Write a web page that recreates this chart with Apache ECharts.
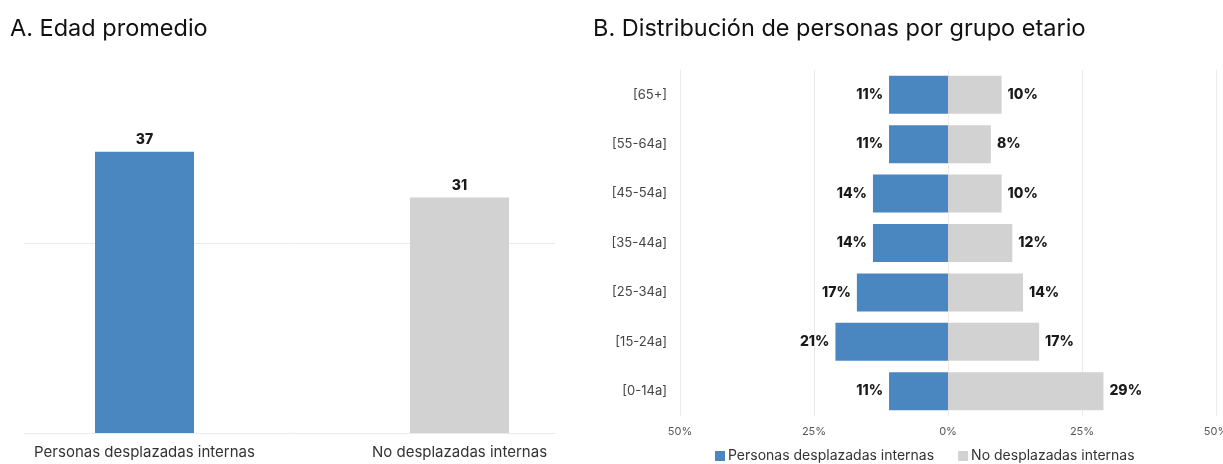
<!DOCTYPE html>
<html>
<head>
<meta charset="utf-8">
<script src="https://cdn.jsdelivr.net/npm/echarts@6/dist/echarts.min.js"></script>
<style>
html,body{margin:0;padding:0;background:#fff;}
#c{width:1223px;height:464px;}
</style>
</head>
<body>
<div id="c"></div>
<script>
// ---- Data ----
const avgCategories = ['Personas desplazadas internas', 'No desplazadas internas'];
const avgAge = [37, 31];

const ageGroups = ['[65+]', '[55-64a]', '[45-54a]', '[35-44a]', '[25-34a]', '[15-24a]', '[0-14a]'];
const displacedPct = [11, 11, 14, 14, 17, 21, 11];
const nonDisplacedPct = [10, 8, 10, 12, 14, 17, 29];

const seriesNames = ['Personas desplazadas internas', 'No desplazadas internas'];
const xTicks = [-50, -25, 0, 25, 50];

// ---- Style ----
const BLUE = '#4a86c0';
const GRAY = '#d2d2d2';
const FONT = 'Inter';
const GRID_COLOR = '#ebebeb';
const barColors = [BLUE, GRAY];
const barLefts = [95, 410];

const chart = echarts.init(document.getElementById('c'), null, {renderer: 'canvas'});

const baseGrid = {outerBoundsMode: 'none', containLabel: false};

const grids = [
  // 0: left chart gridlines / baseline
  Object.assign({left: 24, width: 531, top: 53, bottom: 31}, baseGrid),
  // 1,2: one grid per bar of the left chart
  Object.assign({left: barLefts[0], width: 99, top: 53, bottom: 31}, baseGrid),
  Object.assign({left: barLefts[1], width: 99, top: 53, bottom: 31}, baseGrid),
  // 3: right chart
  Object.assign({left: 680, right: 7, top: 70, bottom: 48}, baseGrid)
];

const xAxes = [
  {gridIndex: 0, type: 'category', data: avgCategories,
   axisLine: {show: true, lineStyle: {color: GRID_COLOR, width: 1}},
   axisTick: {show: false}, axisLabel: {show: false}}
];
const yAxes = [
  {gridIndex: 0, type: 'value', min: 0, max: 50, interval: 25,
   axisLine: {show: false}, axisTick: {show: false}, axisLabel: {show: false},
   splitLine: {show: true, showMinLine: false, showMaxLine: false, lineStyle: {color: GRID_COLOR, width: 1}}}
];
const series = [];

avgCategories.forEach((cat, i) => {
  xAxes.push({gridIndex: i + 1, type: 'category', data: [cat],
    axisLine: {show: false}, axisTick: {show: false},
    axisLabel: {fontFamily: FONT, fontSize: 15, color: '#333', margin: 12, interval: 0}});
  yAxes.push({gridIndex: i + 1, type: 'value', min: 0, max: 50, interval: 25,
    axisLine: {show: false}, axisTick: {show: false}, axisLabel: {show: false},
    splitLine: {show: false}});
  series.push({
    type: 'bar', xAxisIndex: i + 1, yAxisIndex: i + 1,
    barWidth: '100%',
    itemStyle: {color: barColors[i]},
    data: [avgAge[i]],
    label: {show: true, position: 'top', distance: 5,
            fontFamily: FONT, fontSize: 14, fontWeight: 800, color: '#1a1a1a'}
  });
});

xAxes.push({gridIndex: 3, type: 'value', min: xTicks[0], max: xTicks[xTicks.length - 1], interval: 25,
   axisLine: {show: false}, axisTick: {show: false},
   axisLabel: {fontFamily: FONT, fontSize: 11, color: '#555', margin: 10,
               formatter: v => Math.abs(v) + '%'},
   splitLine: {show: true, lineStyle: {color: GRID_COLOR, width: 1}}});
yAxes.push({gridIndex: 3, type: 'category', data: ageGroups, inverse: true,
   axisLine: {show: false}, axisTick: {show: false},
   axisLabel: {fontFamily: FONT, fontSize: 13, color: '#444', margin: 13}});

series.push({
  name: seriesNames[0], type: 'bar', xAxisIndex: 3, yAxisIndex: 3,
  barWidth: 38, barGap: '-100%',
  itemStyle: {color: BLUE},
  data: displacedPct.map(v => -v),
  label: {show: true, position: 'left', distance: 6,
          fontFamily: FONT, fontSize: 14, fontWeight: 800, color: '#1a1a1a',
          formatter: p => Math.abs(p.value) + '%'}
});
series.push({
  name: seriesNames[1], type: 'bar', xAxisIndex: 3, yAxisIndex: 3,
  barWidth: 38, barGap: '-100%',
  itemStyle: {color: GRAY},
  data: nonDisplacedPct,
  label: {show: true, position: 'right', distance: 6,
          fontFamily: FONT, fontSize: 14, fontWeight: 800, color: '#1a1a1a',
          formatter: p => p.value + '%'}
});

const option = {
  backgroundColor: '#fff',
  textStyle: {fontFamily: FONT},
  animation: false,
  title: [
    {text: 'A. Edad promedio', left: 5, top: 12,
     textStyle: {fontFamily: FONT, fontSize: 23.5, fontWeight: 'normal', color: '#111'}},
    {text: 'B. Distribución de personas por grupo etario', left: 588, top: 12,
     textStyle: {fontFamily: FONT, fontSize: 23.5, fontWeight: 'normal', color: '#111'}}
  ],
  legend: {
    data: seriesNames,
    left: 710, top: 444,
    itemWidth: 10, itemHeight: 10, itemGap: 24,
    icon: 'rect',
    textStyle: {fontFamily: FONT, fontSize: 14, color: '#333', padding: [0, 0, 0, -2]}
  },
  grid: grids,
  xAxis: xAxes,
  yAxis: yAxes,
  series: series
};
chart.setOption(option);
</script>
</body>
</html>
